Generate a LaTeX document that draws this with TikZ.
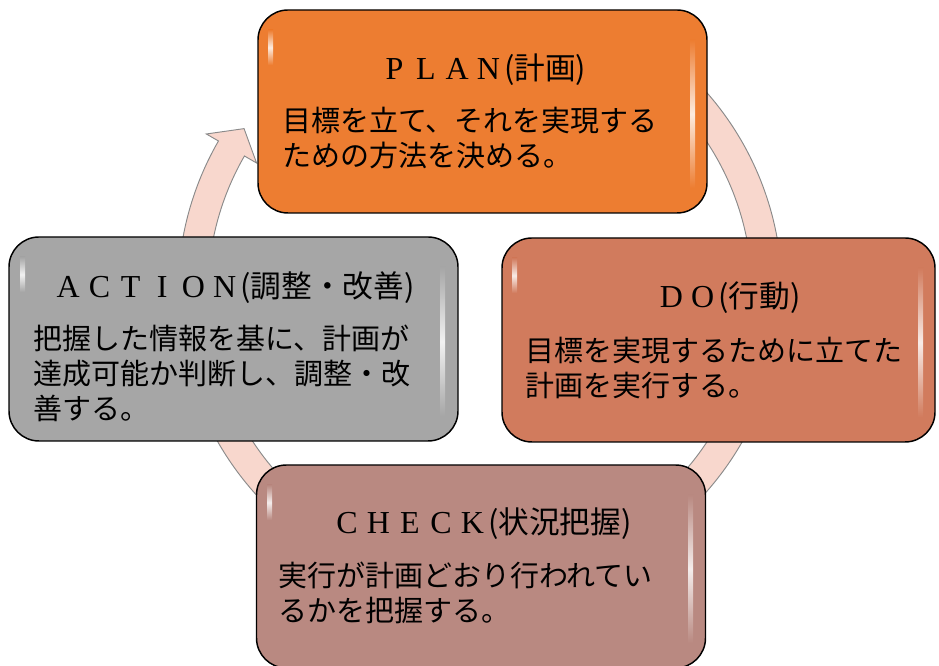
\documentclass[tikz,border=0pt]{standalone}
\usepackage{fontspec}
\setmainfont{Noto Sans CJK JP}
\newfontfamily\latserif{Liberation Serif}
\usetikzlibrary{calc}
\definecolor{planc}{HTML}{ED7D31}
\definecolor{doc}{HTML}{D17B5D}
\definecolor{checkc}{HTML}{B98981}
\definecolor{actionc}{HTML}{A6A6A6}
\definecolor{bandc}{HTML}{F8D7CD}
\definecolor{bandline}{HTML}{8A8A8A}
\newcommand\fwl[1]{\makebox[23.5pt][c]{\latserif\fontsize{24}{24}\selectfont #1}}
\newcommand\glossy[5]{%
  \shade[top color=#1, bottom color=#1, middle color=white!85!#1] (#2+10,#4-20) rectangle (#2+15,#4-55);
  \shade[top color=#1, bottom color=#1, middle color=white!85!#1] (#3-17,#4-30) rectangle (#3-12,#5+25);
}
\tikzset{
  box/.style={draw=black, line width=1.1pt, rounded corners=22.5pt,
    minimum width=336.75pt, minimum height=152.25pt, inner sep=0pt},
  band/.style={fill=bandc, draw=bandline, line width=0.7pt, line join=miter},
  ttl/.style={anchor=base, inner sep=0pt, font=\fontsize{23}{23}\selectfont},
  body/.style={anchor=north west, inner sep=0pt, align=left,
    font=\fontsize{21.75}{26.25}\selectfont},
}
\begin{document}
\begin{tikzpicture}[x=0.75pt,y=0.75pt]
\clip (0,0) rectangle (939,666);
\coordinate (C) at (480,374);
% cycle arrows
\draw[band] ($(C)+(185:302)$) arc[start angle=185,end angle=150,radius=302]
  -- ($(C)+(150:316)$) -- ($(C)+(145.3:287)$) -- ($(C)+(150:258)$)
  -- ($(C)+(150:272)$) arc[start angle=150,end angle=185,radius=272] -- cycle;
\draw[band] ($(C)+(55:302)$) arc[start angle=55,end angle=5,radius=302]
  -- ($(C)+(5:272)$) arc[start angle=5,end angle=55,radius=272] -- cycle;
\draw[band] ($(C)+(-15:302)$) arc[start angle=-15,end angle=-60,radius=302]
  -- ($(C)+(-60:272)$) arc[start angle=-60,end angle=-15,radius=272] -- cycle;
\draw[band] ($(C)+(-120:302)$) arc[start angle=-120,end angle=-165,radius=302]
  -- ($(C)+(-165:272)$) arc[start angle=-165,end angle=-120,radius=272] -- cycle;
% boxes
\node[box, fill=planc] (plan) at (482.5,554.5) {};
\glossy{planc}{258}{707}{656}{453}
\node[box, fill=doc, minimum width=324.75pt, minimum height=153pt] (do) at (718.5,326) {};
\glossy{doc}{502}{935}{428}{224}
\node[box, fill=actionc, minimum height=153pt] (action) at (233.5,327) {};
\glossy{actionc}{10}{457}{429}{225}
\node[box, fill=checkc] (check) at (481,99.5) {};
\glossy{checkc}{257}{705}{201}{-2}
% titles
\node[ttl] (plant) at (482.5,586) {\fwl{P}\fwl{L}\fwl{A}\fwl{N}(計画)};
\node[ttl] (dot) at (728,358) {\fwl{D}\fwl{O}(行動)};
\node[ttl] (actiont) at (233.5,368) {\fwl{A}\fwl{C}\fwl{T}\fwl{I}\fwl{O}\fwl{N}(調整・改善)};
\node[ttl] (checkt) at (481.5,132) {\fwl{C}\fwl{H}\fwl{E}\fwl{C}\fwl{K}(状況把握)};
% body texts
\node[body] (planb) at (282,559) {目標を立て、それを実現する\\ための方法を決める。};
\node[body] (dob) at (525,329) {目標を実現するために立てた\\計画を実行する。};
\node[body] (actionb) at (33,341) {把握した情報を基に、計画が\\達成可能か判断し、調整・改\\善する。};
\node[body] (checkb) at (278,104) {実行が計画どおり行われてい\\るかを把握する。};
\end{tikzpicture}
\end{document}
